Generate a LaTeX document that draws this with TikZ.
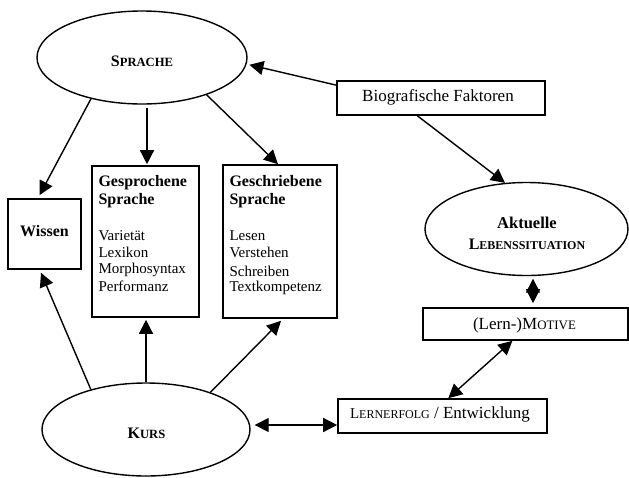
\documentclass[tikz,border=0pt]{standalone}
\usepackage{fontspec}
\setmainfont{Liberation Serif}
\usetikzlibrary{shapes.geometric,arrows.meta,calc}
\newcommand\fs[1]{\fontsize{#1}{#1}\selectfont}
\begin{document}
\begin{tikzpicture}[x=1pt,y=-1pt,
  ell/.style={draw, ellipse, inner sep=0, line width=1.4pt},
  box/.style={draw, rectangle, inner sep=0, line width=1.6pt},
  lbl/.style={inner sep=0, anchor=base west},
  clbl/.style={inner sep=0, anchor=base},
  conn/.style={line width=1.4pt, -{Triangle[length=14pt,width=14pt]}},
  dconn/.style={line width=1.4pt, {Triangle[length=14pt,width=14pt]}-{Triangle[length=14pt,width=14pt]}}]
\useasboundingbox (0,0) rectangle (629,477);

% ellipses
\node[ell, minimum width=210pt, minimum height=93pt] (sprache) at (142,57.5) {};
\node[ell, minimum width=208pt, minimum height=93pt] (kurs) at (146,429.5) {};
\node[ell, minimum width=203pt, minimum height=93pt] (akt) at (526.5,229) {};

% boxes
\node[box, minimum width=73pt, minimum height=70pt] (wissen) at (44.5,234) {};
\node[box, minimum width=107pt, minimum height=151pt] (gesp) at (145.5,241.5) {};
\node[box, minimum width=114pt, minimum height=153pt] (geschr) at (280,241.5) {};
\node[box, minimum width=208pt, minimum height=34pt] (bio) at (441,98) {};
\node[box, minimum width=205pt, minimum height=32pt] (motive) at (525.5,324) {};
\node[box, minimum width=209pt, minimum height=34pt] (lern) at (442.5,416) {};

% texts
\node[clbl] (tsprache) at (142,66.5) {\bfseries\fs{16}S\fs{12.6}PRACHE};
\node[clbl] (tkurs) at (146.5,438.5) {\bfseries\fs{16}K\fs{12.6}URS};
\node[clbl] (takt1) at (527,228) {\bfseries\fs{16.5}Aktuelle};
\node[clbl] (takt2) at (527,249.5) {\bfseries\fs{16}L\fs{12}EBENSSITUATION};
\node[clbl] (twissen) at (44.5,236) {\bfseries\fs{16}Wissen};
\node[clbl] (tbio) at (438,101.7) {\fs{17}Biografische Faktoren};
\node[clbl] (tmotive) at (524.5,329.3) {\fs{17}(Lern-)M\fs{12.9}OTIVE};
\node[clbl] (tlern) at (440,418.5) {\fs{15}L\fs{12}ERNERFOLG\fs{17} / Entwicklung};

\node[lbl] (g1) at (98.3,186) {\bfseries\fs{16}Gesprochene};
\node[lbl] (g2) at (98.3,204) {\bfseries\fs{16}Sprache};
\node[lbl] (g3) at (98.3,240.5) {\fs{15}Varietät};
\node[lbl] (g4) at (98.3,257.3) {\fs{15}Lexikon};
\node[lbl] (g5) at (98.3,273.5) {\fs{15}Morphosyntax};
\node[lbl] (g6) at (98.3,291.5) {\fs{15}Performanz};

\node[lbl] (s1) at (229.3,186) {\bfseries\fs{16}Geschriebene};
\node[lbl] (s2) at (229.3,204) {\bfseries\fs{16}Sprache};
\node[lbl] (s3) at (229.3,240.7) {\fs{15}Lesen};
\node[lbl] (s4) at (229.3,257.3) {\fs{15}Verstehen};
\node[lbl] (s5) at (229.3,276.2) {\fs{15}Schreiben};
\node[lbl] (s6) at (229.3,291.7) {\fs{15}Textkompetenz};

% connectors
\draw[conn] (bio.173.8) -- ($(sprache.-4)+(3,0)$);
\draw[conn] (bio.217.7) -- (akt.115);
\draw[dconn] ($(akt.south)+(6.5,2.5)$) -- ($(motive.north)+(7.5,-4)$);
\draw[dconn] (motive.232) -- (lern.72);
\draw[dconn] ($(kurs.east)+(4,-4.5)$) -- ($(lern.west)+(0,9)$);
\draw[conn] ($(sprache.south)+(5,3)$) -- ($(gesp.north)+(1.5,-1)$);
\draw[conn] (sprache.-30) -- ($(geschr.north)+(-2,0)$);
\draw[conn] (sprache.219) -- ($(wissen.north)+(-5,-3)$);
\draw[conn] (kurs.144.5) -- ($(wissen.south)+(-3.5,3)$);
\draw[conn] (kurs.north) -- ($(gesp.south)+(0.5,2)$);
\draw[conn] (kurs.30) -- ($(geschr.south)+(1,2)$);
\end{tikzpicture}
\end{document}
